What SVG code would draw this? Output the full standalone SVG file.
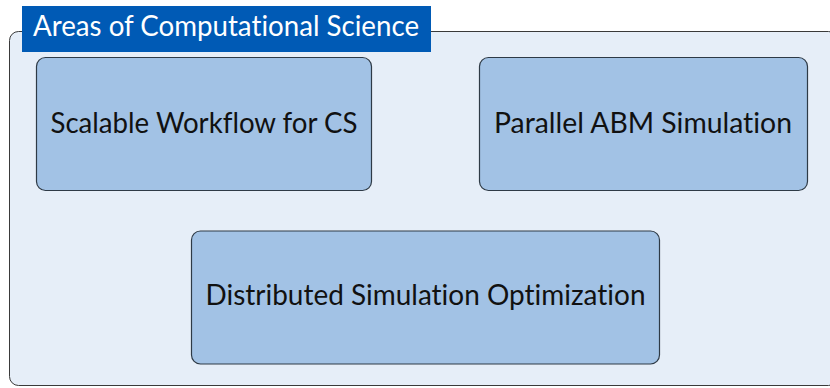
<svg xmlns="http://www.w3.org/2000/svg" width="830" height="388" viewBox="0 0 830 388">
<style>
.node rect{fill:#a2c2e5;stroke:#2e3a46;stroke-width:1.2}
.lbl{font-family:Lato,"DejaVu Sans",sans-serif;font-size:28px;fill:#111;text-anchor:middle;font-variant-ligatures:none}
.title{font-family:Lato,"DejaVu Sans",sans-serif;font-size:28px;fill:#fff;font-variant-ligatures:none}
</style>
<rect width="830" height="388" fill="#fff"/>
<g id="container">
<rect x="9.5" y="31.5" width="828" height="354" rx="9" fill="#e6eef8" stroke="#3a3a3a" stroke-width="1"/>
<rect x="22" y="6" width="409" height="46" fill="#005ab5"/>
<text class="title" x="33" y="36" textLength="386" lengthAdjust="spacingAndGlyphs">Areas of Computational Science</text>
</g>
<g id="connectors"></g>
<g id="n1" class="node">
<rect x="36.5" y="57.5" width="335" height="133" rx="9"/>
<text class="lbl" x="204" y="133" textLength="307" lengthAdjust="spacingAndGlyphs">Scalable Workflow for CS</text>
</g>
<g id="n2" class="node">
<rect x="479.5" y="57.5" width="328" height="133" rx="9"/>
<text class="lbl" x="643" y="133" textLength="298" lengthAdjust="spacingAndGlyphs">Parallel ABM Simulation</text>
</g>
<g id="n3" class="node">
<rect x="191.5" y="231" width="468" height="133" rx="9"/>
<text class="lbl" x="425.5" y="305" textLength="440" lengthAdjust="spacingAndGlyphs">Distributed Simulation Optimization</text>
</g>
</svg>
